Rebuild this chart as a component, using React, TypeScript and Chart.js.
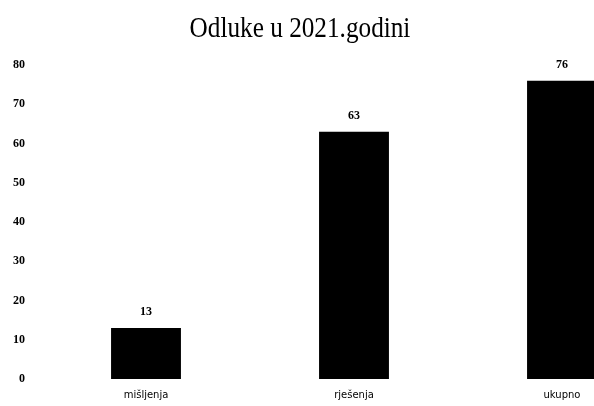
import React, { useEffect, useRef } from "react";
import { Chart, registerables } from "chart.js";

Chart.register(...registerables);

const categories = ["mišljenja", "rješenja", "ukupno"];
const values = [13, 63, 76];
const yTicks = [0, 10, 20, 30, 40, 50, 60, 70, 80];
const titleText = "Odluke u 2021.godini";

const valueLabels = {
  id: "valueLabels",
  afterDatasetsDraw(chart: any) {
    const ctx = chart.ctx;
    const meta = chart.getDatasetMeta(0);
    ctx.save();
    ctx.fillStyle = "#000";
    ctx.font = "bold 12px 'Liberation Serif'";
    ctx.textAlign = "center";
    ctx.textBaseline = "bottom";
    meta.data.forEach((bar: any, i: number) => {
      ctx.fillText(String(values[i]), bar.x, bar.y - 10);
    });
    ctx.restore();
  },
};

const titlePlugin = {
  id: "customTitle",
  afterDraw(chart: any) {
    const ctx = chart.ctx;
    ctx.save();
    ctx.fillStyle = "#000";
    ctx.font = "29px 'Liberation Serif'";
    ctx.textAlign = "center";
    ctx.textBaseline = "alphabetic";
    ctx.translate(300, 37);
    ctx.scale(0.87, 1);
    ctx.fillText(titleText, 0, 0);
    ctx.restore();
  },
};

export default function App() {
  const ref = useRef<HTMLCanvasElement | null>(null);
  useEffect(() => {
    if (!ref.current) return;
    const chart = new Chart(ref.current, {
      type: "bar",
      data: {
        labels: categories,
        datasets: [
          {
            data: values,
            backgroundColor: "#000",
            borderWidth: 0,
            categoryPercentage: 1,
            barPercentage: 0.336,
          },
        ],
      },
      options: {
        animation: false,
        responsive: true,
        maintainAspectRatio: false,
        layout: { padding: { left: 0, right: 0, top: 65, bottom: 0 } },
        plugins: {
          legend: { display: false },
          tooltip: { enabled: false },
          title: { display: false },
        },
        scales: {
          x: {
            grid: { display: false, drawTicks: false },
            border: { display: false },
            ticks: {
              color: "#000",
              font: { family: "'DejaVu Sans'", size: 10 },
              padding: 10,
              maxRotation: 0,
            },
            afterFit: (s: any) => {
              s.height = 27;
            },
          },
          y: {
            min: 0,
            max: 80,
            grid: { display: false, drawTicks: false },
            border: { display: false },
            afterBuildTicks: (s: any) => {
              s.ticks = yTicks.map((v) => ({ value: v }));
            },
            ticks: {
              color: "#000",
              font: { family: "'Liberation Serif'", size: 12, weight: "bold" },
              padding: 17,
            },
            afterFit: (s: any) => {
              s.width = 42;
            },
          },
        },
      },
      plugins: [valueLabels, titlePlugin],
    });
    return () => chart.destroy();
  }, []);
  return (
    <div style={{ position: "absolute", left: 0, top: 0, width: 594, height: 406, background: "#fff", overflow: "hidden" }}>
      <div style={{ position: "relative", width: 666, height: 406 }}>
        <canvas ref={ref} />
      </div>
    </div>
  );
}
